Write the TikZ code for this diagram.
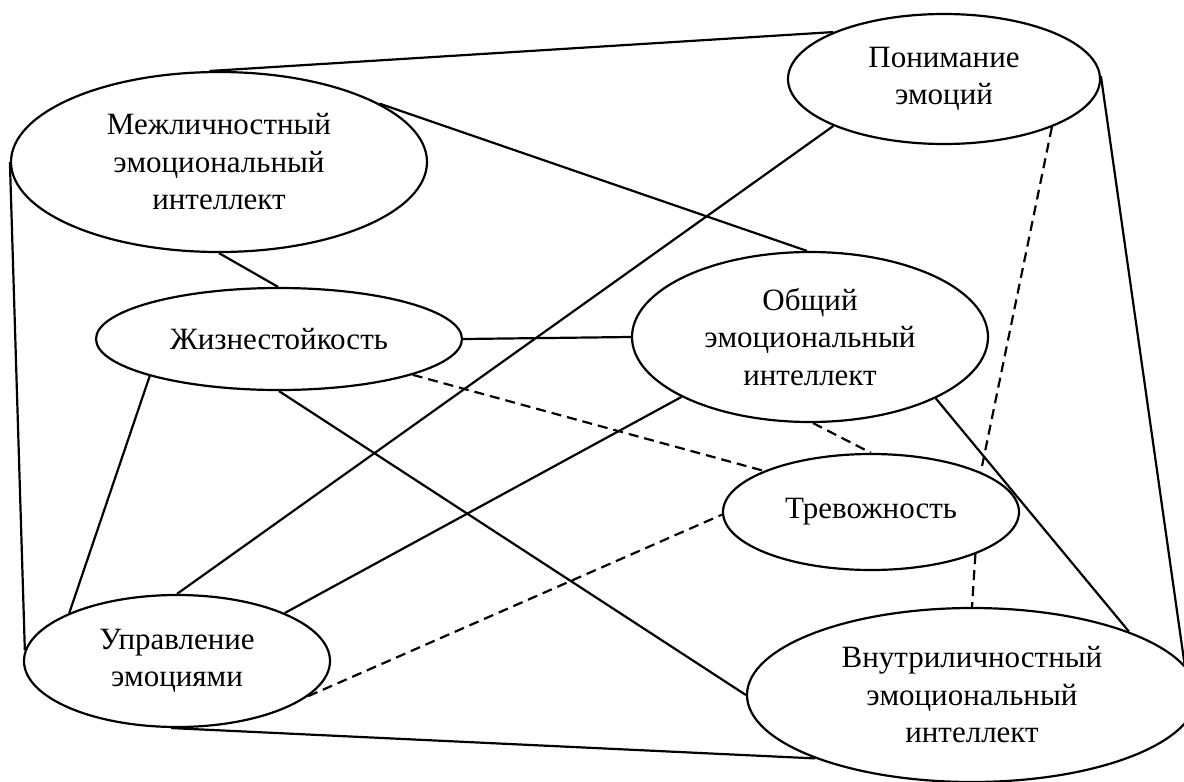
\documentclass[tikz,border=0pt]{standalone}
\usepackage{fontspec}
\setmainfont{Liberation Serif}
\usetikzlibrary{shapes.geometric}
\tikzset{
  emo/.style={ellipse, draw, line width=2.2pt, fill=white, inner sep=0pt, align=center,
    font=\fontsize{31}{37.5}\selectfont},
  link/.style={line width=2.2pt},
  weak/.style={line width=2.2pt, dash pattern=on 10pt off 6pt}
}
\begin{document}
\begin{tikzpicture}[x=1pt, y=-1pt, line join=round]
  \useasboundingbox (0,0) rectangle (1184,782);
  % ellipses
  \node[emo, minimum width=416pt, minimum height=180pt] (mezh) at (219,162) {Межличностный\\эмоциональный\\интеллект};
  \node[emo, minimum width=312pt, minimum height=130pt] (ponim) at (944,79) {Понимание\\эмоций};
  \node[emo, minimum width=366pt, minimum height=102pt] (zhiz) at (279,339) {Жизнестойкость};
  \node[emo, minimum width=356pt, minimum height=170pt] (obsh) at (810,337) {Общий\\эмоциональный\\интеллект};
  \node[emo, minimum width=296pt, minimum height=116pt] (trev) at (871,512) {Тревожность};
  \node[emo, minimum width=306pt, minimum height=132pt] (uprav) at (177,661) {Управление\\эмоциями};
  \node[emo, minimum width=450pt, minimum height=174pt] (vnutr) at (972,695) {Внутриличностный\\эмоциональный\\интеллект};
  % solid links
  \draw[link] (mezh.96) -- (ponim.157);
  \draw[link] (mezh.20) -- (obsh.92);
  \draw[link] (mezh.270) -- (zhiz.91);
  \draw[link] (mezh.180) -- (uprav.176);
  \draw[link] (zhiz.0) -- (obsh.180);
  \draw[link] (zhiz.196) -- (uprav.156);
  \draw[link] (zhiz.270) -- (vnutr.180);
  \draw[link] (ponim.203) -- (uprav.90);
  \draw[link] (obsh.205) -- (uprav.24);
  \draw[link] (obsh.334) -- (vnutr.22);
  \draw[link] (ponim.1) -- (vnutr.8);
  \draw[link] (uprav.265) -- (vnutr.202);
  % dashed links
  \draw[weak] (ponim.336) -- (trev.20);
  \draw[weak] (trev.338) -- (vnutr.90);
  \draw[weak] (zhiz.345) -- (trev.159);
  \draw[weak] (obsh.272) -- (trev.90);
  \draw[weak] (uprav.345) -- (trev.181);
\end{tikzpicture}
\end{document}
